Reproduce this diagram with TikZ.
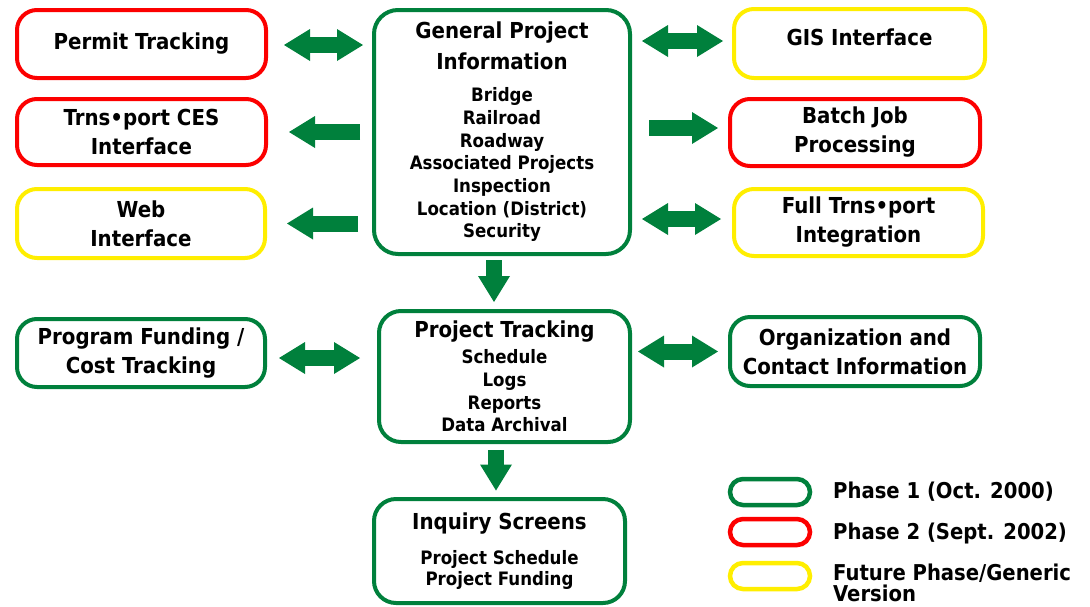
\documentclass[tikz,border=0pt]{standalone}
\usepackage{fontspec}
\setmainfont{DejaVu Sans Condensed}
\usetikzlibrary{arrows.meta}
\definecolor{agreen}{RGB}{0,128,60}
\definecolor{ared}{RGB}{252,0,0}
\definecolor{ayellow}{RGB}{255,238,0}
\begin{document}
\begin{tikzpicture}[x=1pt,y=-1pt,
  box/.style={rounded corners=20pt, line width=4pt, fill=white, inner sep=0pt, align=center,
    font=\bfseries\fontsize{22}{29}\selectfont},
  ph1/.style={box, draw=agreen},
  ph2/.style={box, draw=ared},
  ph3/.style={box, draw=ayellow},
  big/.style={box, rounded corners=24pt, font=\bfseries\fontsize{18.5}{22.7}\selectfont},
  bigtip/.tip={Triangle[width=32pt,length=26pt,line width=0pt]},
  conn/.style={draw=agreen, line width=16pt},
  sgl/.style={conn, -bigtip},
  dbl/.style={conn, bigtip-bigtip},
  pill/.style={draw=#1, line width=4.5pt, rounded corners=13pt, minimum width=80pt, minimum height=26pt, inner sep=0pt},
  legtxt/.style={anchor=west, inner sep=0pt, font=\bfseries\fontsize{21.8}{21}\selectfont, align=left}
]
\useasboundingbox (0,0) rectangle (1090,606);

% left column
\node[ph2, minimum width=249pt, minimum height=68pt] (permit) at (141.5,44) {Permit Tracking};
\node[ph2, minimum width=249pt, minimum height=66pt] (trns) at (141.5,132) {Trns•port CES\\Interface};
\node[ph3, minimum width=248pt, minimum height=69pt] (web) at (141,223.5) {Web\\Interface};

% center
\node[ph1, big, minimum width=256pt, minimum height=244pt] (gpi) at (502,132)
  {{\fontsize{22}{29}\selectfont General Project}\\[8.3pt]
   {\fontsize{22}{29}\selectfont Information}\\[9.3pt]
   Bridge\\Railroad\\Roadway\\Associated Projects\\Inspection\\Location (District)\\Security};

% right column
\node[ph3, minimum width=251pt, minimum height=69pt, text depth=13pt] (gis) at (859.5,43.5) {GIS Interface};
\node[ph2, minimum width=250pt, minimum height=67pt] (batch) at (855,132.5) {Batch Job\\Processing};
\node[ph3, minimum width=249pt, minimum height=67pt] (full) at (858.5,222.5) {Full Trns•port\\Integration};

% middle row
\node[ph1, minimum width=248pt, minimum height=68pt] (pf) at (141,353) {Program Funding /\\Cost Tracking};
\node[ph1, big, rounded corners=22pt, minimum width=251pt, minimum height=131pt] (pt) at (504.5,376.5)
  {{\fontsize{22}{29}\selectfont Project Tracking}\\[3.3pt]
   Schedule\\Logs\\Reports\\Data Archival};
\node[ph1, minimum width=250pt, minimum height=69pt] (org) at (855,351.5) {Organization and\\Contact Information};

% bottom
\node[ph1, big, rounded corners=22pt, minimum width=251pt, minimum height=104pt] (inq) at (499.5,551)
  {{\fontsize{22}{29}\selectfont Inquiry Screens}\\[12.3pt]
   Project Schedule\\[-1.7pt]Project Funding};

% connectors
\draw[dbl, shorten <=16pt, shorten >=9pt] ([yshift=-1pt]permit.east) -- ([yshift=-1pt]permit.east -| gpi.west);
\draw[sgl, shorten <=12pt, shorten >=21pt] (trns.east -| gpi.west) -- (trns.east);
\draw[sgl, shorten <=14pt, shorten >=20pt] (web.east -| gpi.west) -- (web.east);
\draw[dbl, shorten <=10pt, shorten >=9pt] ([yshift=2.5pt]gis.west -| gpi.east) -- ([yshift=2.5pt]gis.west);
\draw[sgl, shorten <=17pt, shorten >=10pt] ([yshift=4.5pt]batch.west -| gpi.east) -- ([yshift=4.5pt]batch.west);
\draw[dbl, shorten <=10pt, shorten >=11pt] ([yshift=3.5pt]full.west -| gpi.east) -- ([yshift=3.5pt]full.west);
\draw[sgl, shorten <=4pt, shorten >=7pt] ([xshift=-8pt]gpi.south) -- ([xshift=-8pt]gpi.south |- pt.north);
\draw[dbl, shorten <=12pt, shorten >=17pt] ([yshift=-5pt]pf.east) -- ([yshift=-5pt]pf.east -| pt.west);
\draw[dbl, shorten <=6pt, shorten >=10pt] (org.west -| pt.east) -- (org.west);
\draw[sgl, shorten <=6pt, shorten >=6.5pt] ([xshift=-8.5pt]pt.south) -- ([xshift=-8.5pt]pt.south |- inq.north);

% legend
\node[pill=agreen] (l1) at (770,492) {};
\node[pill=ared] (l2) at (770,532) {};
\node[pill=ayellow] (l3) at (770,576) {};
\node[legtxt] (t1) at (833,492) {Phase 1 (Oct. 2000)};
\node[legtxt] (t2) at (833,533.5) {Phase 2 (Sept. 2002)};
\node[legtxt, anchor=north west] (t3) at (833,564) {Future Phase/Generic\\Version};
\end{tikzpicture}
\end{document}
